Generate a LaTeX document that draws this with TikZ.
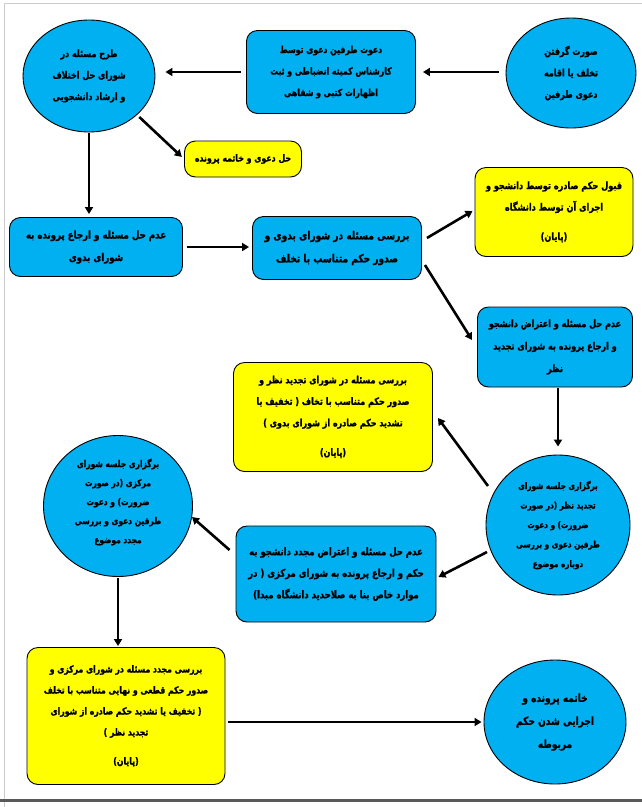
\documentclass[tikz,border=0pt]{standalone}
\usepackage{fontspec}
\usetikzlibrary{shapes.geometric,arrows.meta,calc}
\TeXXeTstate=1
\newfontfamily\fa[Script=Arabic,FakeStretch=0.8,FakeBold=1.2]{DejaVu Sans}
\newcommand{\rl}[1]{\beginR #1\endR}
\newcommand{\fs}[2]{\fa\bfseries\fontsize{#1}{#2}\selectfont}
\definecolor{boxblue}{RGB}{0,176,240}
\definecolor{boxyellow}{RGB}{255,255,0}
\begin{document}
\begin{tikzpicture}[x=1pt,y=-1pt,
  shp/.style={draw=black, line width=0.9pt, inner sep=0pt},
  blubox/.style={shp, rounded corners=11pt, fill=boxblue, align=center, font=\fs{10}{21.5}},
  yelbox/.style={shp, rounded corners=11pt, fill=boxyellow, align=center, font=\fs{10}{21.5}},
  oval/.style={shp, ellipse, fill=boxblue},
  txt/.style={align=center, inner sep=0pt, font=\fs{9.3}{19.5}},
  big/.style={font=\fs{11.3}{23}},
  arr/.style={line width=2.6pt, -{Triangle[length=7pt,width=8pt]}},
]
\fill[white] (0,0) rectangle (642,807);
\useasboundingbox (0,0) rectangle (642,807);
\draw[gray!40, line width=0.8pt] (4,807) -- (4,3) -- (642,3);
\draw[gray!70!black, line width=3pt] (0,800) -- (642,800);

% row 1
\node[oval, minimum width=130pt, minimum height=110pt] (c1) at (571,73) {};
\node[txt, font=\fs{10}{21.5}] (c1t) at (c1) {\rl{صورت گرفتن}\\ \rl{تخلف یا اقامه}\\ \rl{دعوی طرفین}};
\node[blubox, font=\fs{9.7}{21.5}, minimum width=169pt, minimum height=83pt] (b1) at (331,72) {\rl{دعوت طرفین دعوی توسط}\\ \rl{کارشناس کمیته انضباطی و ثبت}\\ \rl{اظهارات کتبی و شفاهی}};
\node[oval, minimum width=132pt, minimum height=112pt] (c2) at (89,76) {};
\node[txt, font=\fs{10}{21.5}] (c2t) at (c2) {\rl{طرح مسئله در}\\ \rl{شورای حل اختلاف}\\ \rl{و ارشاد دانشجویی}};
\node[yelbox, font=\fs{9.8}{21.5}, minimum width=117pt, minimum height=36pt] (y1) at (243,159) {\rl{حل دعوی و خاتمه پرونده}};

% row 2
\node[blubox, font=\fs{10.8}{22.5}, minimum width=173pt, minimum height=59pt] (b2) at (96,247) {\rl{عدم حل مسئله و ارجاع پرونده به}\\ \rl{شورای بدوی}};
\node[blubox, big, minimum width=169pt, minimum height=63pt] (b3) at (337,248) {\rl{بررسی مسئله در شورای بدوی و}\\ \rl{صدور حکم متناسب با تخلف}};
\node[yelbox, font=\fs{10.2}{21.5}, minimum width=158pt, minimum height=89pt] (y2) at (554,212) {\rl{قبول حکم صادره توسط دانشجو و}\\ \rl{اجرای آن توسط دانشگاه}\\[8pt] \rl{(پایان)}};
\node[blubox, font=\fs{10.1}{22.5}, minimum width=155pt, minimum height=80pt] (b4) at (555,347) {\rl{عدم حل مسئله و اعتراض دانشجو}\\ \rl{و ارجاع پرونده به شورای تجدید}\\ \rl{نظر}};

% row 3
\node[yelbox, minimum width=199pt, minimum height=109pt] (y3) at (333,417) {\rl{بررسی مسئله در شورای تجدید نظر و}\\ \rl{صدور حکم متناسب با تخاف ( تخفیف یا}\\ \rl{تشدید حکم صادره از شورای بدوی )}\\[8pt] \rl{(پایان)}};
\node[oval, minimum width=144pt, minimum height=140pt] (c3) at (558,525) {};
\node[txt, font=\fs{9.1}{19.5}] (c3t) at (c3) {\rl{برگزاری جلسه شورای}\\ \rl{تجدید نظر (در صورت}\\ \rl{ضرورت) و دعوت}\\ \rl{طرفین دعوی و بررسی}\\ \rl{دوباره موضوع}};
\node[blubox, font=\fs{10.6}{21.5}, minimum width=200pt, minimum height=96pt] (b5) at (336,574) {\rl{عدم حل مسئله و اعتراض مجدد دانشجو به}\\ \rl{حکم و ارجاع پرونده به شورای مرکزی ( در}\\ \rl{موارد خاص بنا به صلاحدید دانشگاه مبدا)}};
\node[oval, minimum width=149pt, minimum height=141pt] (c4) at (118,506) {};
\node[txt, font=\fs{9.4}{19}] (c4t) at ($(c4)+(0,-4)$) {\rl{برگزاری جلسه شورای}\\ \rl{مرکزی (در صورت}\\ \rl{ضرورت) و دعوت}\\ \rl{طرفین دعوی و بررسی}\\ \rl{مجدد موضوع}};

% row 4
\node[yelbox, font=\fs{9.7}{21}, minimum width=198pt, minimum height=137pt] (y4) at (126,716) {\rl{بررسی مجدد مسئله در شورای مرکزی و}\\ \rl{صدور حکم قطعی و نهایی متناسب با تخلف}\\ \rl{( تخفیف یا تشدید حکم صادره از شورای}\\ \rl{تجدید نظر )}\\[8pt] \rl{(پایان)}};
\node[oval, minimum width=142pt, minimum height=124pt] (c5) at (555,722) {};
\node[txt, big] (c5t) at (c5) {\rl{خاتمه پرونده و}\\ \rl{اجرایی شدن حکم}\\ \rl{مربوطه}};

% connectors
\draw[arr, shorten <=7pt, shorten >=7pt] (c1.west |- b1.east) -- (b1.east);
\draw[arr, shorten <=5pt, shorten >=10pt] (b1.west) -- (b1.west -| c2.east);
\draw[arr, shorten <=3pt, shorten >=3pt] (c2.-39) -- (y1.west);
\draw[arr, shorten <=1pt, shorten >=3pt] (c2.south) -- (c2.south |- b2.north);
\draw[arr, shorten <=4pt, shorten >=3pt] (b2.east) -- (b2.east -| b3.west);
\draw[arr] ($(b3.east)+(5,-10)$) -- ($(y2.west)+(-2,-1)$);
\draw[arr] ($(b3.east)+(3,17)$) -- ($(b4.west)+(-5,-7)$);
\draw[arr, shorten <=1pt, shorten >=8pt] (c3.north |- b4.south) -- (c3.north);
\draw[arr] ($(c3)+(-70,-39)$) -- ($(y3.east)+(5,1)$);
\draw[arr] ($(c3)+(-71,27)$) -- ($(b5.east)+(2,3)$);
\draw[arr] ($(b5.west)+(-6,-24)$) -- ($(c4)+(74,11)$);
\draw[arr, shorten <=1pt, shorten >=1pt] (c4.south) -- (c4.south |- y4.north);
\draw[arr, shorten <=3pt, shorten >=2pt] (y4.east |- c5.west) -- (c5.west);
\end{tikzpicture}
\end{document}
